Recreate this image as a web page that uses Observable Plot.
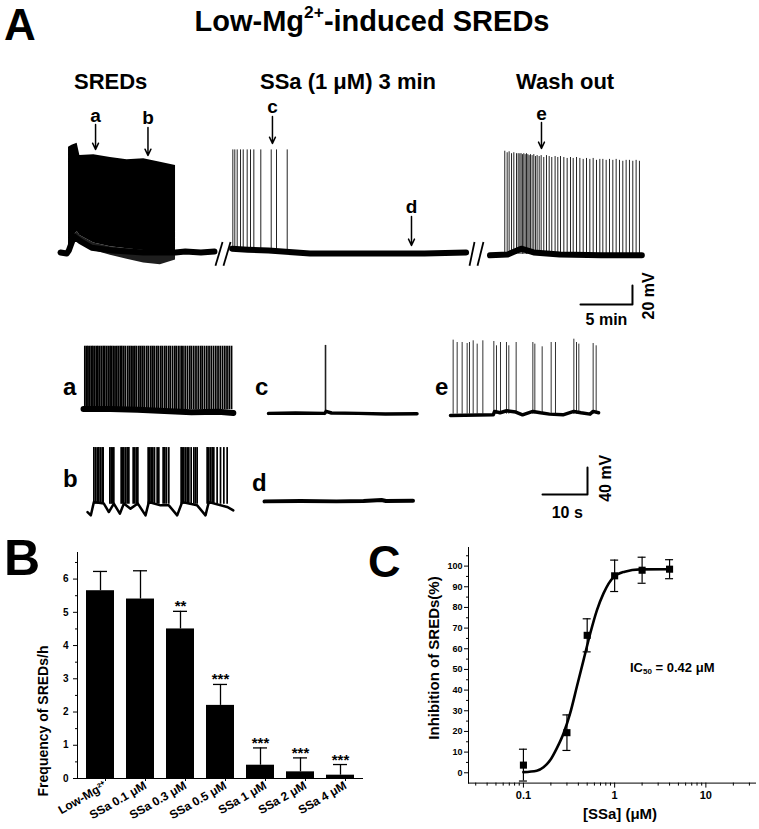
<!DOCTYPE html>
<html><head><meta charset="utf-8">
<script src="https://cdn.jsdelivr.net/npm/d3@7"></script>
<script src="https://cdn.jsdelivr.net/npm/@observablehq/plot@0.6"></script>
<style>
body{margin:0;background:#fff;}
#fig{position:relative;width:759px;height:829px;overflow:hidden;background:#fff;font-family:"Liberation Sans",Arial,Helvetica,sans-serif;font-weight:bold;color:#000;}
.lbl{position:absolute;white-space:nowrap;line-height:0.75;}
.lbl sup{font-size:0.6em;vertical-align:baseline;position:relative;top:-0.75em;}
.lbl sub{font-size:0.62em;vertical-align:baseline;position:relative;top:0.25em;}
</style></head><body><div id="fig"></div>
<script>
// ---------------- DATA ----------------
// Panel A main recording: display time (min), membrane potential (mV)
const seg1Base = [[0,-60],[0.6,-61],[0.8,-58],[1.3,-43],[1.9,-48],[3,-55],[5,-58],[8,-60],[11.06,-60],[12,-59],[13.5,-60],[14.8,-59]];
const burstT   = [0.77,1.1,1.6,1.86,3.2,4.8,6.4,8.0,9.6,11.06];
const burstHi  = [50.8,53,55,42,43,40,37.6,38.6,35,31.6];
const burstMid = [-58,-45,-38,-42,-50,-54,-56,-58,-59,-58];
const burstLo  = [-61,-50,-42,-47,-58,-63,-67,-71,-73,-68];
const seg2Base = [[16.5,-56],[18,-57],[20,-58],[24,-61],[30,-61],[35,-61],[39.0,-60]];
const seg2Spikes = [16.57,16.76,16.99,17.31,17.57,17.95,18.27,18.59,19.26,20.26,20.77,21.80];
const seg2Peak = 48;
const seg3Base = [[41.3,-63],[43,-62],[44.3,-56],[45.5,-60],[48,-62],[52,-63],[55.9,-63]];
const seg3SpikeT = [42.72,42.95,43.14,43.37,43.59,43.85,44.01,44.17,44.29,44.42,44.55,44.68,44.81,44.94,45.06,45.19,45.35,45.51,45.67,45.83,46.03,46.22,46.47,46.73,46.99,47.24,47.56,47.82,48.08,48.40,48.72,49.04,49.30,49.62,49.94,50.26,50.58,50.90,51.22,51.54,51.86,52.15,52.47,52.79,53.11,53.43,53.75,54.07,54.39,54.71,55.03,55.35,55.67];
const seg3SpikePeak = [46.6,45,46,44,45,44,44,43.9,44,43,44,43,44,43,42,43,42,43,41,42,41,42,40,42,41,40,41,40,41,40,39,40,39,40,39,38,39,38,39,37,38,38,37,38,37,38,37,36,37,37,36,37,36];
const breakT = [[14.9,15.58],[15.67,16.35],[39.33,39.81],[40.1,40.67]];
const arrowName = ["a","b","c","d","e"];
const arrowT    = [3.37,8.41,20.38,33.75,46.25];
const arrowTail = [74.7,71.6,83.2,-22.1,76.8];
const arrowTip  = [48.4,42.1,54.7,-52.6,49.5];
const scaleA = {min:5, mV:20};

// Insets: time (s), membrane potential (mV)
const insetASpikes = [0.3,0.7,1.0,1.4,1.8,2.1,2.5,2.9,3.2,3.6,4.0,4.4,4.7,5.1,5.5,5.9,6.2,6.6,7.0,7.4,7.8,8.2,8.5,8.9,9.3,9.8,10.2,10.6,11.0,11.4,11.8,12.3,12.7,13.1,13.5,14.0,14.4,14.9,15.3,15.7,16.2,16.6,17.1,17.5,18.0,18.4,18.9,19.3,19.8,20.3,20.7,21.2,21.7,22.1,22.6,23.1,23.6,24.0,24.5,25.0,25.5,26.0,26.4,26.9,27.4,27.9,28.4,28.9,29.4,29.9,30.4,30.9,31.4,31.9,32.4,32.9];
const insetAPeak = 33;
const insetABase = [[0,-60],[6,-60],[12,-61],[18,-63],[24,-65],[30,-64],[33.3,-66]];
const insetBSpikes = [1.41,1.78,2.15,2.52,2.89,3.26,3.48, 4.96,5.26,5.56,5.85, 7.48,7.78,8.07,8.44,8.81,9.19, 10.15,10.52,10.89,11.19, 13.48,13.85,14.15,14.52,14.89,15.48,15.85, 16.81,17.19,17.56,18.07, 20.81,21.11,21.41,21.78,22.15,22.52,23.04,23.63,24.0,24.37, 26.59,26.96,27.33,27.7,28.07,28.81,29.56,30.3,31.04];
const insetBPeak = 36;
const insetBBase = [[0,-59.5],[0.74,-64.4],[1.41,-44.8],[3.63,-47],[4.74,-59.5],[5.85,-47],[7.19,-62],[8.07,-47],[9.56,-54.5],[11.19,-47],[12.89,-64.4],[13.63,-44.8],[16.22,-49.6],[18.07,-49.6],[19.93,-64.4],[21.04,-44.8],[24.37,-49.6],[26.22,-64.4],[26.96,-44.8],[31.04,-52],[32.4,-57]];
const insetCSpikes = [[12.67,40.7]];
const insetCBase = [[0,-60],[6,-59.5],[12.5,-60],[12.8,-57],[14,-59.5],[20,-60],[26,-61],[33,-60.5]];
const insetDBase = [[0,-60],[8,-59.5],[16,-60],[22,-59.5],[26,-58],[27,-59.5],[33,-59]];
const insetESpikeT = [0.59,1.48,2.59,3.70,4.22,5.04,5.93,7.19,9.63,10.22,11.11,12.44,12.96,14.59,18.30,18.74,20.37,22.37,23.33,27.41,28.0,28.52,31.70,32.37];
const insetESpikePeak = [49.6,46.1,46.1,44.6,46.1,48.6,43.7,48.6,47.6,41.2,46.1,46.1,41.2,46.1,46.1,43.7,39.7,46.1,46.1,51,46.1,43.7,44.6,41.2];
const insetEBase = [[0,-62],[9.5,-61],[9.8,-56],[11,-58],[12.5,-55],[14.5,-57],[16,-61],[18.3,-56],[20,-58],[22,-60],[25,-61],[27.4,-56],[29,-58],[31,-60],[31.7,-56],[32.9,-58]];
const scaleB = {s:10, mV:40};

// Panel B
const bCats  = ["Low-Mg²⁺","SSa 0.1 μM","SSa 0.3 μM","SSa 0.5 μM","SSa 1 μM","SSa 2 μM","SSa 4 μM"];
const bMean  = [5.65,5.4,4.5,2.2,0.4,0.2,0.1];
const bSem   = [0.58,0.85,0.53,0.63,0.52,0.42,0.32];
const bStars = ["","","**","***","***","***","***"];
const bYTicks = [0,1,2,3,4,5,6];
const bYMinor = [0.5,1.5,2.5,3.5,4.5,5.5,6.5];

// Panel C
const cConc = [0.1,0.3,0.5,1,2,4];
const cInh  = [3.7,19.4,66.5,95.3,98,98.5];
const cErr  = [7.7,8.6,8.0,7.6,6.3,4.6];
const fitX = [0.1,0.14,0.166,0.196,0.232,0.275,0.325,0.385,0.456,0.54,0.64,0.755,0.98,1.29,1.9,4];
const fitY = [0.3,1,2.7,6,11.8,19,28.7,41.6,54.5,67.4,78.7,86.8,94.8,97.3,98.4,98.5];
const cYTicks = [0,10,20,30,40,50,60,70,80,90,100];
const cYMinor = [5,15,25,35,45,55,65,75,85,95,105];
const cXTicks = [0.1,1,10];
const cXMinor = [0.03,0.04,0.05,0.06,0.07,0.08,0.09,0.2,0.3,0.4,0.5,0.6,0.7,0.8,0.9,2,3,4,5,6,7,8,9,20,30];

// ---------------- RENDER ----------------
const FONT = '"Liberation Sans", Arial, Helvetica, sans-serif';
const fig = document.getElementById("fig");
const baseStyle = {fontFamily: FONT, fontWeight: "bold", overflow: "visible", background: "transparent", color: "#000"};

function place(svg, left, top) {
  svg.style.position = "absolute";
  svg.style.left = left + "px";
  svg.style.top = top + "px";
  svg.style.maxWidth = "none";
  fig.appendChild(svg);
}
// line-height 0.75 -> baseline sits 0.7215em below the box top (Liberation Sans metrics)
function label(html, x, baseline, size, opts = {}) {
  const d = document.createElement("div");
  d.className = "lbl";
  d.innerHTML = html;
  d.style.fontSize = size + "px";
  if (opts.rotate) {
    d.style.left = x + "px"; d.style.top = baseline + "px";
    d.style.lineHeight = "1";
    d.style.transform = "translate(-50%,-50%) rotate(-90deg)";
  } else {
    d.style.left = x + "px";
    d.style.top = (baseline - 0.7215 * size) + "px";
    if (opts.anchor === "middle") d.style.transform = "translateX(-50%)";
  }
  fig.appendChild(d);
}
function tracePlot({xRef, yRef, yRefVal, pxX, pxY, xDomain, yDomain, marks}) {
  const width = (xDomain[1] - xDomain[0]) * pxX;
  const height = (yDomain[1] - yDomain[0]) * pxY;
  const left = xRef + xDomain[0] * pxX;
  const top = yRef - (yDomain[1] - yRefVal) * pxY;
  const svg = Plot.plot({width, height, margin: 0,
    x: {domain: xDomain, axis: null}, y: {domain: yDomain, axis: null},
    style: baseStyle, marks});
  place(svg, left, top);
}

// Panel A main
const burst = burstT.map((t, i) => ({t, hi: burstHi[i], mid: burstMid[i], lo: burstLo[i]}));
const seg3 = seg3SpikeT.map((t, i) => ({t, p: seg3SpikePeak[i]}));
const arrows = arrowName.map((n, i) => ({n, t: arrowT[i], tail: arrowTail[i], tip: arrowTip[i]}));
const sbY = -114.7, sbX = 55;
tracePlot({xRef: 60, yRef: 252, yRefVal: -60, pxX: 10.4, pxY: 0.95, xDomain: [0, 58], yDomain: [-150, 100],
  marks: [
    Plot.areaY(burst, {x: "t", y1: "lo", y2: "mid", fill: "#1e1e1e"}),
    Plot.areaY(burst, {x: "t", y1: "mid", y2: "hi", fill: "#000"}),
    Plot.ruleX(seg2Spikes, {x: d => d, y1: -57, y2: seg2Peak, stroke: "#222", strokeWidth: 1}),
    Plot.ruleX(seg3, {x: "t", y1: -62, y2: "p", stroke: "#222", strokeWidth: 1}),
    Plot.line(seg1Base, {stroke: "#000", strokeWidth: 6}),
    Plot.line(seg2Base, {stroke: "#000", strokeWidth: 6}),
    Plot.line(seg3Base, {stroke: "#000", strokeWidth: 6}),
    Plot.link(breakT, {x1: d => d[0], x2: d => d[1], y1: -74, y2: -49, stroke: "#000", strokeWidth: 1.8}),
    Plot.arrow(arrows, {x1: "t", x2: "t", y1: "tail", y2: "tip", stroke: "#000", strokeWidth: 1.5, headLength: 7, headAngle: 50}),
    Plot.text(arrows, {x: "t", y: "tail", text: "n", dy: -3, lineAnchor: "bottom", fontSize: 19, fontWeight: "bold"}),
    Plot.line([[sbX - scaleA.min, sbY], [sbX, sbY], [sbX, sbY + scaleA.mV]], {stroke: "#000", strokeWidth: 2}),
    Plot.text([scaleA.min + " min"], {x: sbX - scaleA.min / 2, y: sbY, text: d => d, dy: 9, lineAnchor: "top", fontSize: 16}),
    Plot.text([scaleA.mV + " mV"], {x: sbX, y: sbY + scaleA.mV / 2 - 1, text: d => d, dx: 16, rotate: -90, fontSize: 16})
  ]});

// Insets
const inset = {pxX: 4.5, pxY: 0.675, yRefVal: -60};
tracePlot({...inset, xRef: 83, yRef: 408, xDomain: [0, 33.3], yDomain: [-75, 40], marks: [
  Plot.ruleX(insetASpikes, {x: d => d, y1: -61, y2: insetAPeak, stroke: "#000", strokeWidth: 1.8}),
  Plot.line(insetABase, {stroke: "#000", strokeWidth: 6})]});
tracePlot({...inset, xRef: 87, yRef: 512, xDomain: [0, 32.4], yDomain: [-75, 45], marks: [
  Plot.ruleX(insetBSpikes, {x: d => d, y1: -48, y2: insetBPeak, stroke: "#000", strokeWidth: 1.7}),
  Plot.line(insetBBase, {stroke: "#000", strokeWidth: 2.5})]});
tracePlot({...inset, xRef: 268, yRef: 413, xDomain: [0, 33], yDomain: [-75, 45], marks: [
  Plot.ruleX(insetCSpikes, {x: d => d[0], y1: -60, y2: d => d[1], stroke: "#222", strokeWidth: 1.6}),
  Plot.line(insetCBase, {stroke: "#000", strokeWidth: 3.5})]});
tracePlot({...inset, xRef: 264, yRef: 501, xDomain: [0, 33], yDomain: [-75, 45], marks: [
  Plot.line(insetDBase, {stroke: "#000", strokeWidth: 4})]});
const insetE = insetESpikeT.map((t, i) => ({t, p: insetESpikePeak[i]}));
tracePlot({...inset, xRef: 450, yRef: 413.3, xDomain: [0, 33], yDomain: [-75, 55], marks: [
  Plot.ruleX(insetE, {x: "t", y1: -60, y2: "p", stroke: "#333", strokeWidth: 1}),
  Plot.line(insetEBase, {stroke: "#000", strokeWidth: 3.5})]});
// Scale bar for insets
tracePlot({pxX: 4.5, pxY: 0.675, yRefVal: 0, xRef: 542, yRef: 494, xDomain: [0, scaleB.s], yDomain: [0, scaleB.mV], marks: [
  Plot.line([[0, 0], [scaleB.s, 0], [scaleB.s, scaleB.mV]], {stroke: "#000", strokeWidth: 2}),
  Plot.text([scaleB.s + " s"], {x: scaleB.s / 2 + 0.5, y: 0, text: d => d, dy: 12, lineAnchor: "top", fontSize: 16}),
  Plot.text([scaleB.mV + " mV"], {x: scaleB.s, y: scaleB.mV / 2 + 4, text: d => d, dx: 18, rotate: -90, fontSize: 16})
]});

// Panel B
const bTable = bCats.map((c, i) => ({c, m: bMean[i], e: bSem[i], s: bStars[i]}));
place(Plot.plot({
  width: 380, height: 289, marginLeft: 77, marginRight: 18, marginTop: 12, marginBottom: 51,
  x: {domain: bCats, paddingInner: 0.31, paddingOuter: 0.15, label: null},
  y: {domain: [0, 6.8], label: null},
  style: baseStyle,
  marks: [
    Plot.ruleX(bTable, {x: "c", y1: "m", y2: d => d.m + d.e, stroke: "#000", strokeWidth: 1.3}),
    Plot.tickY(bTable, {x: "c", y: d => d.m + d.e, insetLeft: 7, insetRight: 7, stroke: "#000", strokeWidth: 1.3}),
    Plot.barY(bTable, {x: "c", y: "m", fill: "#000"}),
    Plot.text(bTable, {x: "c", y: d => d.m + d.e, text: "s", dy: 0, lineAnchor: "bottom", fontSize: 15}),
    Plot.axisY({ticks: bYTicks, tickSize: 4, tickPadding: 5, fontSize: 10, tickFormat: d => String(d), label: null}),
    Plot.axisY({ticks: bYMinor, tickSize: 2, tickFormat: () => "", label: null}),
    Plot.axisX({tickSize: 3, tickPadding: 3, tickRotate: -30, fontSize: 12, dx: 5, label: null}),
    Plot.frame({anchor: "left"}),
    Plot.frame({anchor: "bottom"})
  ]
}), 0, 540);

// Panel C
const cTable = cConc.map((c, i) => ({c, m: cInh[i], e: cErr[i]}));
const fit = fitX.map((x, i) => ({x, y: fitY[i]}));
place(Plot.plot({
  width: 379, height: 289, marginLeft: 88, marginRight: 4, marginTop: 7, marginBottom: 46.4,
  x: {type: "log", domain: [0.025, 35], label: null},
  y: {domain: [-5, 109], label: null},
  style: baseStyle,
  marks: [
    Plot.ruleX(cTable, {x: "c", y1: d => d.m - d.e, y2: d => d.m + d.e, stroke: "#000", strokeWidth: 1.2}),
    Plot.ruleY(cTable, {x1: "c", x2: "c", y: d => d.m + d.e, insetLeft: -4, insetRight: -4, stroke: "#000", strokeWidth: 1.2}),
    Plot.ruleY(cTable, {x1: "c", x2: "c", y: d => d.m - d.e, insetLeft: -4, insetRight: -4, stroke: "#000", strokeWidth: 1.2}),
    Plot.line(fit, {x: "x", y: "y", curve: "monotone-x", stroke: "#000", strokeWidth: 2.6}),
    Plot.dot(cTable, {x: "c", y: "m", symbol: "square", r: 4, fill: "#000", stroke: null}),
    Plot.axisY({ticks: cYTicks, tickSize: 4, tickPadding: 2, fontSize: 9, tickFormat: d => String(d), label: null}),
    Plot.axisY({ticks: cYMinor, tickSize: 2, tickFormat: () => "", label: null}),
    Plot.axisX({ticks: cXTicks, tickSize: 5, tickPadding: 3, fontSize: 11, tickFormat: d => String(d), label: null}),
    Plot.axisX({ticks: cXMinor, tickSize: 3, tickFormat: () => "", label: null}),
    Plot.frame({anchor: "left"}),
    Plot.frame({anchor: "bottom"})
  ]
}), 380, 540);

// Text labels
label("A", 4, 40, 44);
label("Low-Mg<sup>2+</sup>-induced SREDs", 372, 32, 29, {anchor: "middle"});
label("SREDs", 74, 90, 22);
label("SSa (1 μM) 3 min", 260, 90, 22);
label("Wash out", 516, 90, 22);
label("a", 63, 395, 24);
label("b", 63, 487, 24);
label("c", 255, 395, 24);
label("d", 252, 491, 24);
label("e", 435, 395, 24);
label("B", 4, 576, 50);
label("C", 368, 577, 45);
label("Frequency of SREDs/h", 43, 721, 14, {rotate: true});
label("Inhibition of SREDs(%)", 433, 658, 15, {rotate: true});
label("[SSa] (μM)", 620, 819, 15, {anchor: "middle"});
label("IC<sub>50</sub> = 0.42 μM", 630, 672, 13);
</script></body></html>
